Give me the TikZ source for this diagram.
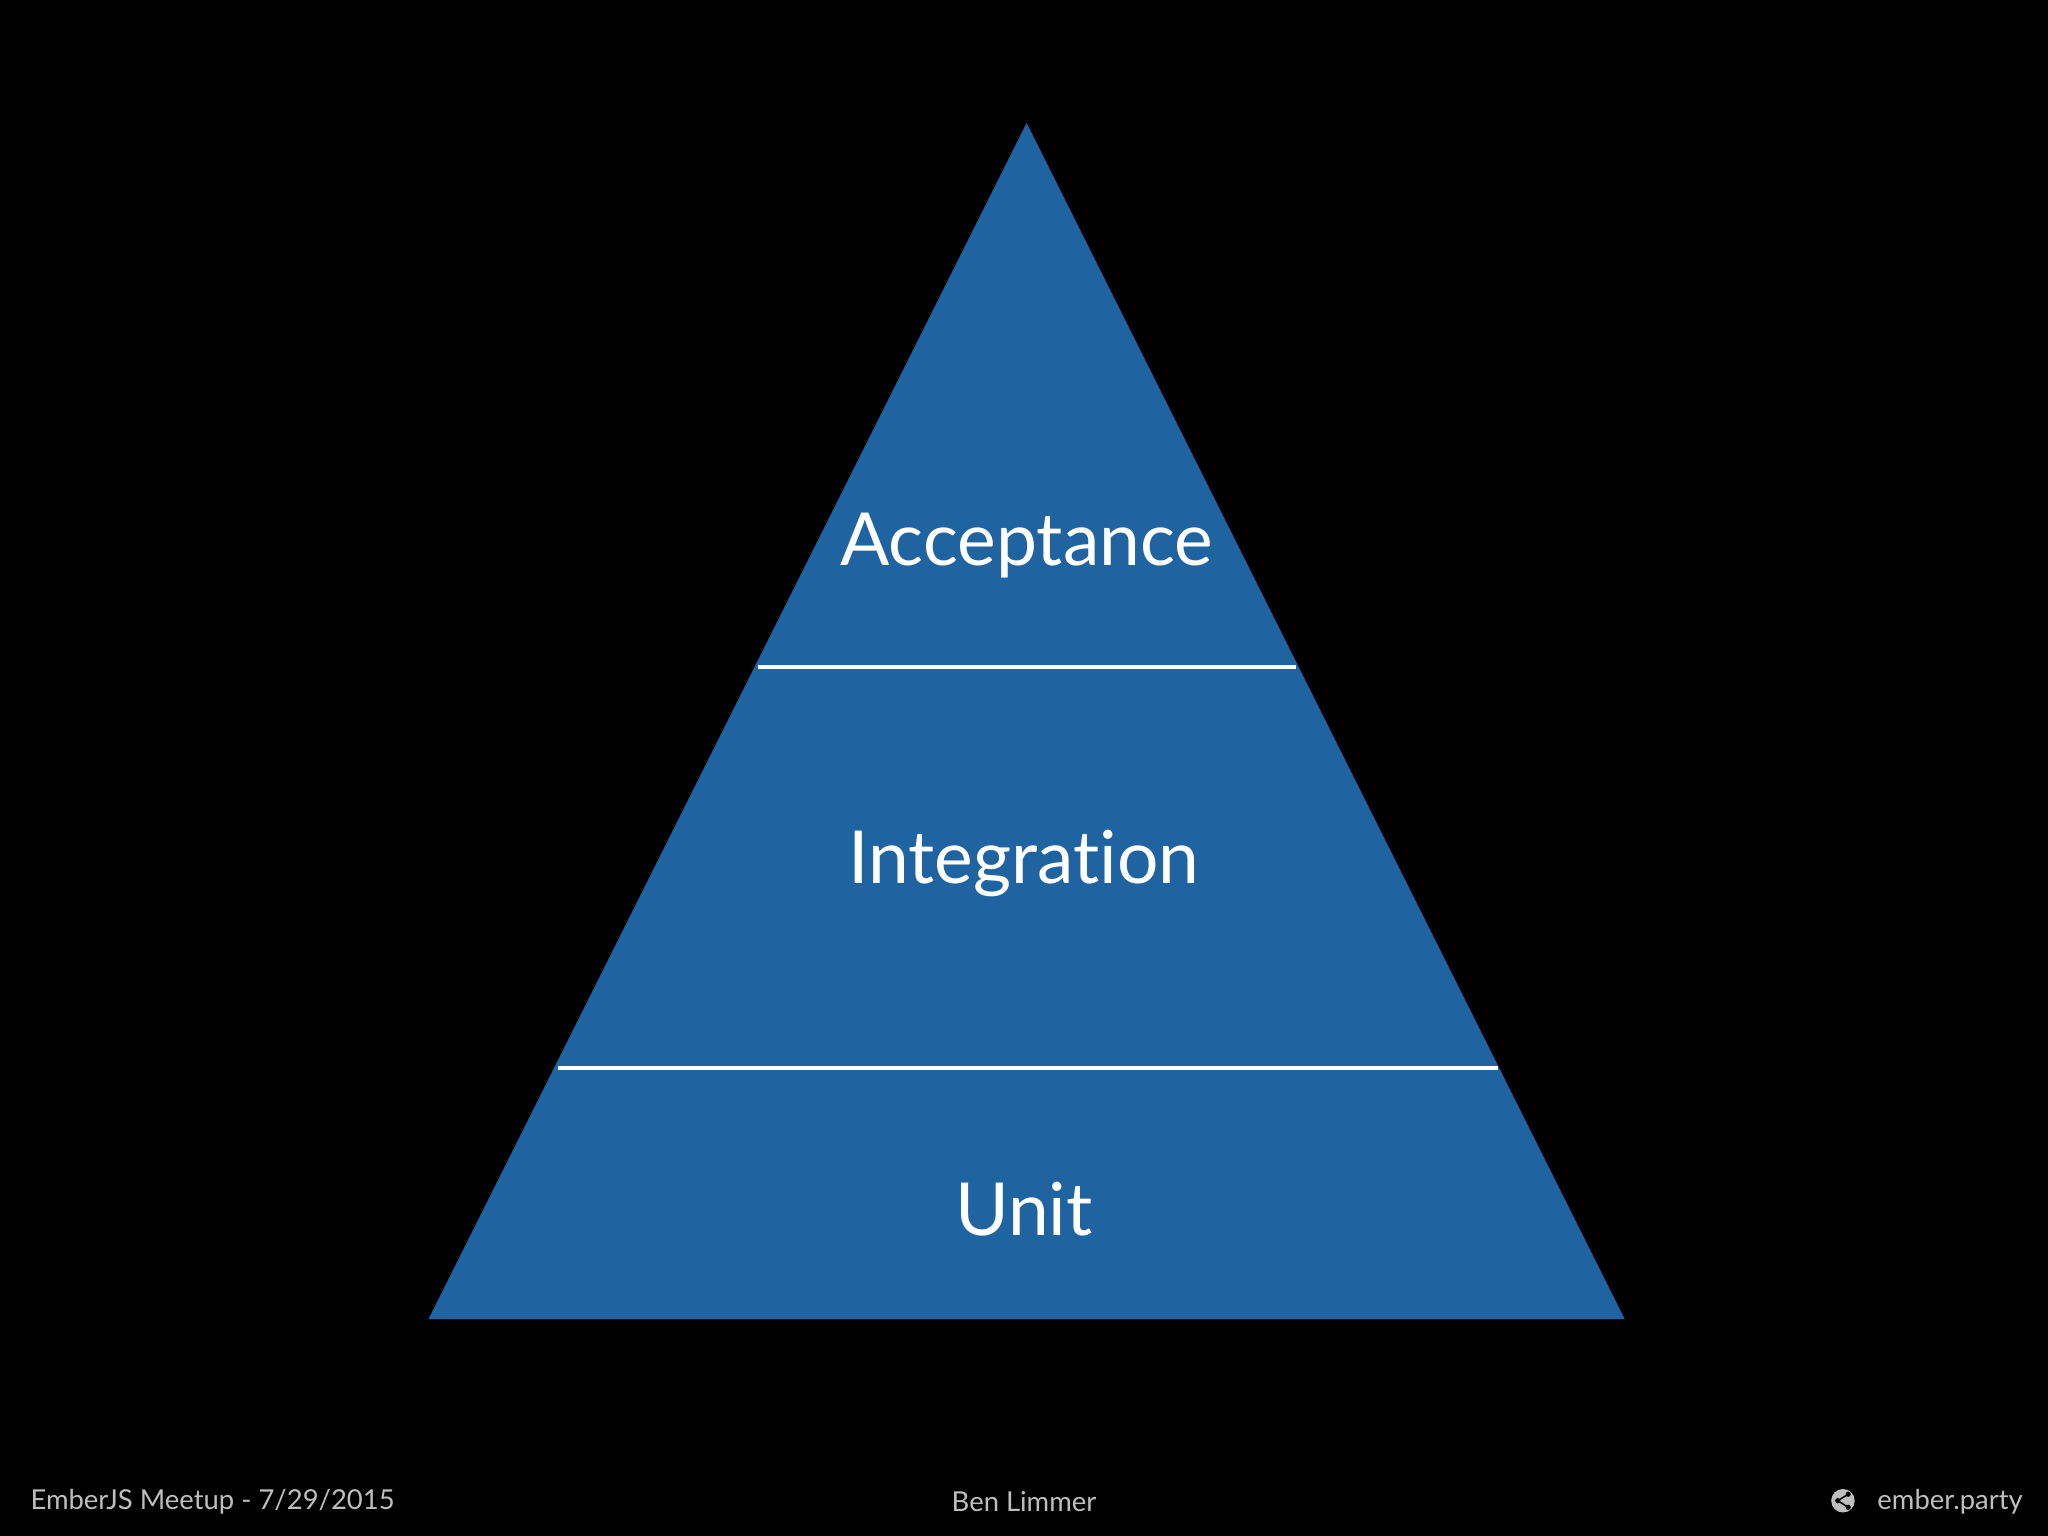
\documentclass[tikz,border=0pt]{standalone}
\usepackage{fontspec}
\setmainfont[Ligatures=NoCommon]{Lato}
\definecolor{pyr}{RGB}{31,100,160}
\definecolor{foot}{RGB}{190,190,190}
\begin{document}
\begin{tikzpicture}[x=0.5pt,y=-0.5pt,
  lbl/.style={text=white,font=\fontsize{28}{34}\selectfont,inner sep=0},
  ft/.style={text=foot,font=\fontsize{10.5}{13}\selectfont,inner sep=0},
  sep/.style={draw=white,line width=1.5pt}]
\fill[black] (0,0) rectangle (1568,1176);
\useasboundingbox (0,0) rectangle (1568,1176);
\coordinate (apex) at (786,94);
\coordinate (bl) at (328,1010);
\coordinate (br) at (1244,1010);
\fill[pyr] (apex) -- (br) -- (bl) -- cycle;
\coordinate (a1) at (580,511); \coordinate (a2) at (992,511);
\coordinate (b1) at (427,818); \coordinate (b2) at (1147,818);
\draw[sep] (a1) -- (a2);
\draw[sep] (b1) -- (b2);
\node[lbl] (acc) at (786,418) {Acceptance};
\node[lbl] (int) at (784,661) {Integration};
\node[lbl] (unit) at (784,926) {Unit};
\node[ft,anchor=west] (l) at (23,1150) {EmberJS Meetup - 7/29/2015};
\node[ft] (m) at (784,1150) {Ben Limmer};
\node[ft,anchor=east] (r) at (1549,1150) {ember.party};
\fill[foot] (1411,1149) circle (9);
\fill[black] (1407,1149) circle (2) (1415,1144) circle (2) (1415,1154) circle (2);
\draw[black,line width=0.6pt] (1407,1149) -- (1415,1144) (1407,1149) -- (1415,1154);
\end{tikzpicture}
\end{document}
